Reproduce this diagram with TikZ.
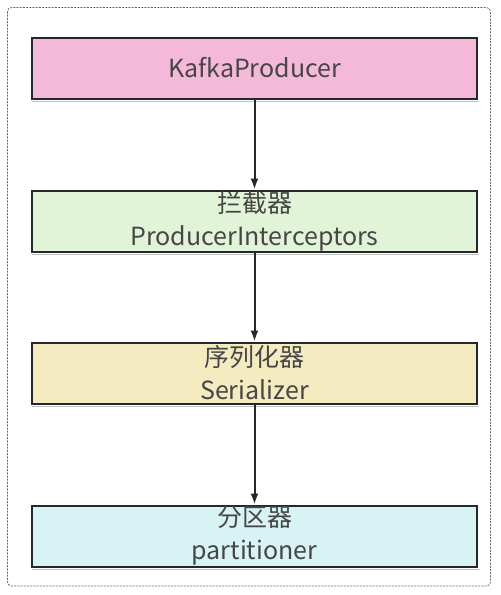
\documentclass[tikz,border=0pt]{standalone}
\usepackage{fontspec}
\setmainfont{Noto Sans CJK SC}
\usepackage{tikz}
\usetikzlibrary{arrows.meta,calc,positioning}
\definecolor{producerpink}{RGB}{244,184,216}
\definecolor{interceptgreen}{RGB}{226,244,216}
\definecolor{serialyellow}{RGB}{245,235,192}
\definecolor{partcyan}{RGB}{216,243,243}
\definecolor{stepline}{RGB}{34,40,44}
\definecolor{steptext}{RGB}{70,70,70}
\tikzset{
  frame/.style={draw=black!60, line width=0.8pt, dash pattern=on 2pt off 1.2pt, rounded corners=4pt},
  stage/.style={draw=stepline, line width=2pt, minimum width=445pt, minimum height=61pt,
    inner sep=0pt, align=center, text=steptext, font=\fontsize{25}{33}\selectfont},
  shadowline/.style={draw=black!25, line width=1.5pt},
  flowArrow/.style={-{Latex[length=11pt,width=8pt]}, line width=2pt, draw=stepline}
}
\begin{document}
\begin{tikzpicture}[x=1pt, y=-1pt]
  \useasboundingbox (0,0) rectangle (501,595);
  % outer frame
  \draw[frame] (7.5,7.5) rectangle (490.5,586);
  % stages, top to bottom
  \node[stage, fill=producerpink]   (producer)  at (254.5,68)  {KafkaProducer};
  \node[stage, fill=interceptgreen] (intercept) at (254.5,221) {拦截器\\ProducerInterceptors};
  \node[stage, fill=serialyellow]   (serial)    at (254.5,373) {序列化器\\Serializer};
  \node[stage, fill=partcyan]       (part)      at (254.5,536) {分区器\\partitioner};
  % faint shadow under each box
  \foreach \n in {producer,intercept,serial,part}{
    \draw[shadowline] ($(\n.south west)+(1,2)$) -- ($(\n.south east)+(1,2)$);
  }
  % flow
  \draw[flowArrow] (producer.south)  -- (intercept.north);
  \draw[flowArrow] (intercept.south) -- (serial.north);
  \draw[flowArrow] (serial.south)    -- (part.north);
\end{tikzpicture}
\end{document}
